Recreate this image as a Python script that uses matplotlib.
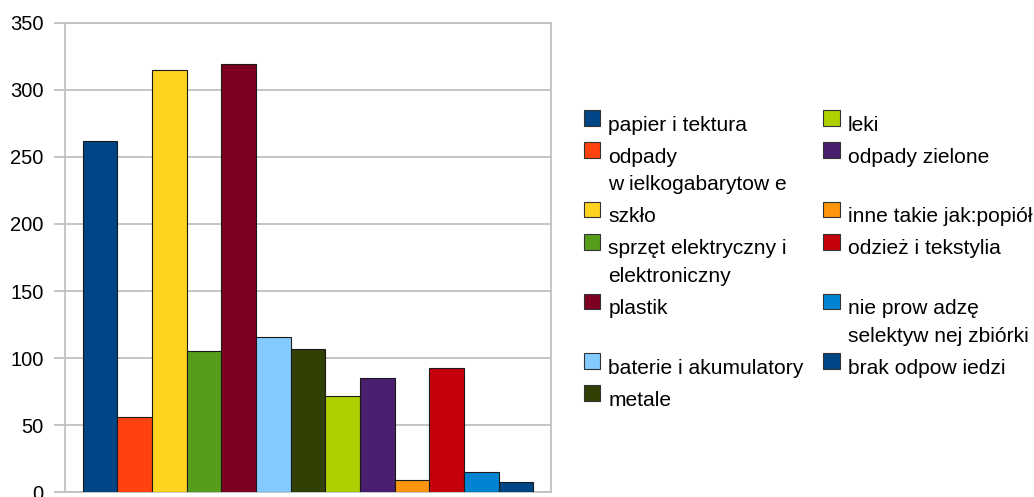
import matplotlib.pyplot as plt
from matplotlib.patches import Rectangle

plt.rcParams['font.family'] = ['Liberation Sans', 'DejaVu Sans']

# data
labels = [
    "papier i tektura",
    "odpady\nw ielkogabarytow e",
    "szkło",
    "sprzęt elektryczny i\nelektroniczny",
    "plastik",
    "baterie i akumulatory",
    "metale",
    "leki",
    "odpady zielone",
    "inne takie jak:popiół",
    "odzież i tekstylia",
    "nie prow adzę\nselektyw nej zbiórki",
    "brak odpow iedzi",
]
values = [262, 56, 315, 105, 319, 116, 107, 72, 85, 9, 93, 15, 8]
colors = ["#004586", "#ff420e", "#ffd320", "#579d1c", "#7e0021", "#83caff",
          "#314004", "#aecf00", "#4b1f6f", "#ff950e", "#c5000b", "#0084d1",
          "#004586"]
yticks = [0, 50, 100, 150, 200, 250, 300, 350]

W, H = 1034, 497
fig = plt.figure(figsize=(W / 100, H / 100), dpi=100)
ax = fig.add_axes([64.5 / W, 1 - 492.3 / H, (550.7 - 64.5) / W, (492.3 - 22.7) / H])

x = list(range(len(values)))
ax.bar(x, values, width=1.0, color=colors, edgecolor="#1a1a1a", linewidth=0.8, zorder=3)

ax.set_xlim(-1.02, 13.0)
ax.set_ylim(0, 350)
ax.set_yticks(yticks)
ax.set_xticks([])
ax.yaxis.grid(True, color="#c0c0c0", linewidth=1.3, zorder=0)
ax.tick_params(axis="y", length=8, width=1.3, color="#c0c0c0", pad=7, labelsize=14.5)
for s in ax.spines.values():
    s.set_color("#c0c0c0")
    s.set_linewidth(1.3)

# legend drawn by hand so that rows line up across both columns
col_x = [583.5, 823]
row_lines = [1, 2, 1, 2, 2, 1, 1]
y0 = 131
row_y = []
for n in row_lines:
    row_y.append(y0)
    y0 += 32 + 27.5 * (n - 1)

for i, (lab, c) in enumerate(zip(labels, colors)):
    col, row = divmod(i, 7)
    bx = col_x[col]
    by = row_y[row]
    fig.add_artist(Rectangle((bx / W, 1 - (by - 5) / H), 16.5 / W, 15.5 / H,
                             transform=fig.transFigure, facecolor=c,
                             edgecolor="#333333", linewidth=0.8))
    for k, line in enumerate(lab.split("\n")):
        fig.text((bx + 25) / W, 1 - (by + 27.5 * k) / H, line,
                 fontsize=15.1, va="baseline", ha="left", color="#000000")

fig.savefig("out.png", dpi=100)
